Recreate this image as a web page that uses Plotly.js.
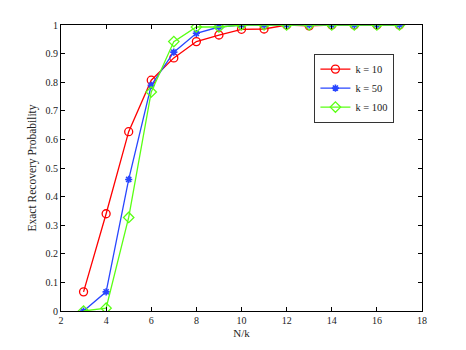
<!DOCTYPE html>
<html>
<head>
<meta charset="utf-8">
<script src="https://cdn.plot.ly/plotly-3.0.1.min.js"></script>
<style>
  html, body { margin: 0; padding: 0; background: #fff; }
  #myDiv { width: 466px; height: 350px; }
</style>
</head>
<body>
<div id="myDiv"></div>
<script>
var ratio = [3, 4, 5, 6, 7, 8, 9, 10, 11, 12, 13, 14, 15, 16, 17];

var k10 = [0.067, 0.340, 0.627, 0.807, 0.885, 0.942, 0.965, 0.985, 0.986, 1.0, 0.997, 1.0, 1.0, 1.0, 1.0];
var k50 = [0.0, 0.067, 0.460, 0.789, 0.905, 0.971, 0.993, 1.0, 1.0, 1.0, 1.0, 1.0, 1.0, 1.0, 1.0];
var k100 = [0.0, 0.010, 0.327, 0.766, 0.942, 0.993, 0.993, 1.0, 1.0, 1.0, 1.0, 1.0, 1.0, 1.0, 1.0];

var names = ['k = 10', 'k = 50', 'k = 100'];

var finalData = [
  {
    x: ratio, y: k10, mode: 'lines+markers', name: names[0],
    line: {color: 'rgb(255,0,0)', width: 1.3},
    marker: {symbol: 'circle-open', size: 8, color: 'rgb(255,0,0)', line: {width: 1.3}}
  },
  {
    x: ratio, y: k50, mode: 'lines+markers', name: names[1],
    line: {color: 'rgb(40,70,255)', width: 1.3},
    marker: {symbol: 'asterisk-open', size: 6, color: 'rgb(40,70,255)', line: {width: 1.6, color: 'rgb(40,70,255)'}}
  },
  {
    x: ratio, y: k100, mode: 'lines+markers', name: names[2],
    line: {color: 'rgb(90,255,20)', width: 1.3},
    marker: {symbol: 'diamond-open', size: 8, color: 'rgb(90,255,20)', line: {width: 1.3}}
  }
];

var axisStyle = {
  showline: true, mirror: 'ticks', linecolor: '#000', linewidth: 1,
  ticks: 'inside', ticklen: 4, tickcolor: '#000',
  showgrid: false, zeroline: false,
  tickfont: {family: 'Liberation Serif', size: 10, color: '#222'}
};

var layout = {
  width: 466, height: 350,
  margin: {l: 61, r: 44, t: 25, b: 39},
  paper_bgcolor: '#fff', plot_bgcolor: '#fff',
  font: {family: 'Liberation Serif', size: 10, color: '#222'},
  xaxis: Object.assign({}, axisStyle, {
    range: [2, 18], tickvals: [2, 4, 6, 8, 10, 12, 14, 16, 18],
    title: {text: 'N/k', font: {family: 'Liberation Serif', size: 11, color: '#222'}, standoff: 4}
  }),
  yaxis: Object.assign({}, axisStyle, {
    range: [0, 1], dtick: 0.1,
    title: {text: 'Exact Recovery Probability', font: {family: 'Liberation Serif', size: 11.5, color: '#222'}, standoff: 6}
  }),
  showlegend: true,
  legend: {
    x: 0.702, y: 0.9, xanchor: 'left', yanchor: 'top',
    bgcolor: '#fff', bordercolor: '#333', borderwidth: 1,
    font: {family: 'Liberation Serif', size: 10.5, color: '#222'},
    tracegroupgap: 0, itemwidth: 30
  }
};

Plotly.newPlot('myDiv', finalData, layout, {displayModeBar: false});
</script>
</body>
</html>
